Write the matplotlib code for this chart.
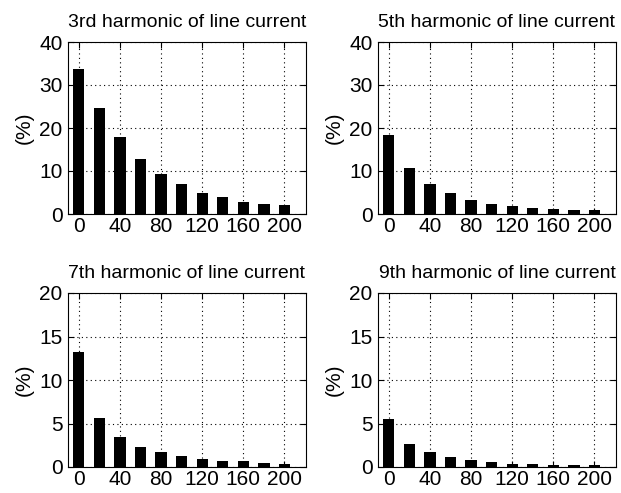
import matplotlib.pyplot as plt
import numpy as np

# x positions of the bars (same for all panels)
x_vals = [0, 20, 40, 60, 80, 100, 120, 140, 160, 180, 200]

h3 = [33.8, 24.7, 18.0, 12.7, 9.2, 6.9, 5.0, 3.9, 2.9, 2.4, 2.1]
h5 = [18.3, 10.6, 6.9, 4.8, 3.2, 2.4, 1.8, 1.5, 1.2, 0.9, 0.9]
h7 = [13.2, 5.6, 3.4, 2.3, 1.7, 1.25, 0.95, 0.7, 0.7, 0.5, 0.35]
h9 = [5.5, 2.7, 1.7, 1.2, 0.8, 0.55, 0.4, 0.4, 0.25, 0.25, 0.25]

titles = ['3rd harmonic of line current', '5th harmonic of line current',
          '7th harmonic of line current', '9th harmonic of line current']
ylims = [40, 40, 20, 20]
yticks_list = [[0, 10, 20, 30, 40], [0, 10, 20, 30, 40],
               [0, 5, 10, 15, 20], [0, 5, 10, 15, 20]]
xticks = [0, 40, 80, 120, 160, 200]

plt.rcParams['font.family'] = ['Liberation Sans', 'DejaVu Sans']

fig = plt.figure(figsize=(6.21, 4.93), dpi=100)

# axes boxes in pixels: left, top, right, bottom
boxes = [(68, 42, 306, 214), (378, 42, 616, 214),
         (68, 293, 306, 467), (378, 293, 616, 467)]
W, H = 621, 493

for i, heights in enumerate([h3, h5, h7, h9]):
    l, t, r, b = boxes[i]
    ax = fig.add_axes([l / W, 1 - b / H, (r - l) / W, (b - t) / H])
    ax.bar(x_vals, heights, width=11, color='black', zorder=3)
    ax.set_xlim(-10.5, 221)
    ax.set_ylim(0, ylims[i])
    ax.set_xticks(xticks)
    ax.set_yticks(yticks_list[i])
    ax.tick_params(direction='in', labelsize=15, length=4, width=0.8,
                   top=True, right=True)
    ax.tick_params(axis='x', pad=2)
    ax.tick_params(axis='y', pad=4)
    ax.grid(True, color='black', linestyle=(0, (1, 3)), linewidth=0.8)
    ax.set_axisbelow(True)
    for s in ax.spines.values():
        s.set_linewidth(0.8)
    ax.set_title(titles[i], fontsize=14, pad=11)
    ax.set_ylabel('(%)', fontsize=15, labelpad=4)

fig.savefig('out.png', dpi=100)
